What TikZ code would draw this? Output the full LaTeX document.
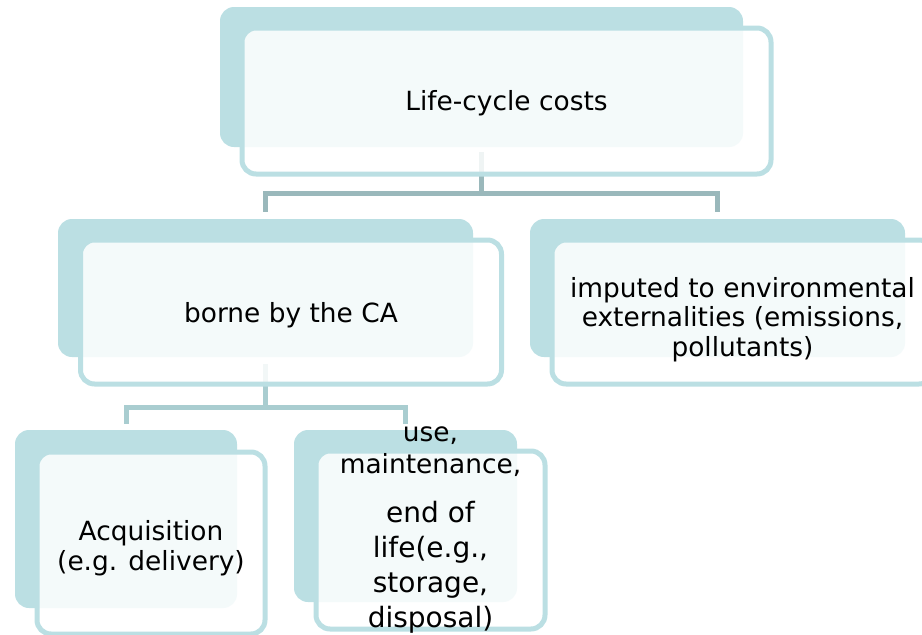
\documentclass[tikz,border=0pt]{standalone}
\usepackage{fontspec}
\setmainfont{DejaVu Sans}
\definecolor{backc}{HTML}{BBDFE3}
\definecolor{frontc}{HTML}{BBDFE3}
\definecolor{connA}{HTML}{9AB8BB}
\definecolor{connB}{HTML}{A9CDD0}
\begin{document}
\begin{tikzpicture}[x=1pt,y=-1pt,
  backbox/.style={draw=none, fill=backc, rounded corners=14pt, inner sep=0pt, outer sep=0pt},
  frontbox/.style={draw=frontc, line width=5pt, fill=white, fill opacity=0.85, rounded corners=14pt, inner sep=0pt, outer sep=0pt},
  connline/.style={line width=5pt},
  txt/.style={inner sep=0pt, align=center, text=black, font={\fontsize{26.4}{29.5}\selectfont}},
  txtbig/.style={inner sep=0pt, align=center, text=black, font={\fontsize{28}{35}\selectfont}}
]
\useasboundingbox (0,0) rectangle (922,635);
% back boxes
\node[backbox, minimum width=523pt, minimum height=140pt] (topB) at (481.5,77) {};
\node[backbox, minimum width=415pt, minimum height=138pt] (midLB) at (265.5,288) {};
\node[backbox, minimum width=375pt, minimum height=138pt] (midRB) at (717.5,288) {};
\node[backbox, minimum width=222pt, minimum height=178pt] (botLB) at (126,519) {};
\node[backbox, minimum width=223pt, minimum height=172pt] (botRB) at (405.5,516) {};
% connectors
\coordinate (j1) at (481.5,193);
\coordinate (j2) at (265.5,407);
\draw[connline, connA, shorten <=5pt] (topB.south) -- (j1);
\draw[connline, connA, shorten >=7pt] (j1) -| (midLB.north);
\draw[connline, connA, shorten >=7pt] (j1) -| (midRB.north);
\draw[connline, connB, shorten <=7pt] (midLB.south) -- (j2);
\draw[connline, connB, shorten >=6pt] (j2) -| (botLB.north);
\draw[connline, connB, shorten >=6pt] (j2) -| (botRB.north);
% front boxes
\node[frontbox, minimum width=529pt, minimum height=146pt] (topF) at (506.5,101) {};
\node[frontbox, minimum width=421pt, minimum height=144pt] (midLF) at (291,312) {};
\node[frontbox, minimum width=381pt, minimum height=144pt] (midRF) at (742.5,312) {};
\node[frontbox, minimum width=228pt, minimum height=182pt] (botLF) at (151,543) {};
\node[frontbox, minimum width=229pt, minimum height=178pt] (botRF) at (430.5,540) {};
% texts (base anchor = baseline of last line)
\node[txt, anchor=base] (topT) at (506.5,110) {Life-cycle costs};
\node[txt, anchor=base] (midLT) at (291,322) {borne by the CA};
\node[txt, anchor=base] (midRT) at (742.5,356) {imputed to environmental\\externalities (emissions,\\pollutants)};
\node[txt, anchor=base] (botLT) at (151,570) {Acquisition\\(e.g. delivery)};
\node[txt, anchor=base, font={\fontsize{26.4}{32}\selectfont}] (botRT1) at (430.5,473) {use,\\maintenance,};
\node[txtbig, anchor=base] (botRT2) at (430.5,627) {end of\\life(e.g.,\\storage,\\disposal)};
\end{tikzpicture}
\end{document}
